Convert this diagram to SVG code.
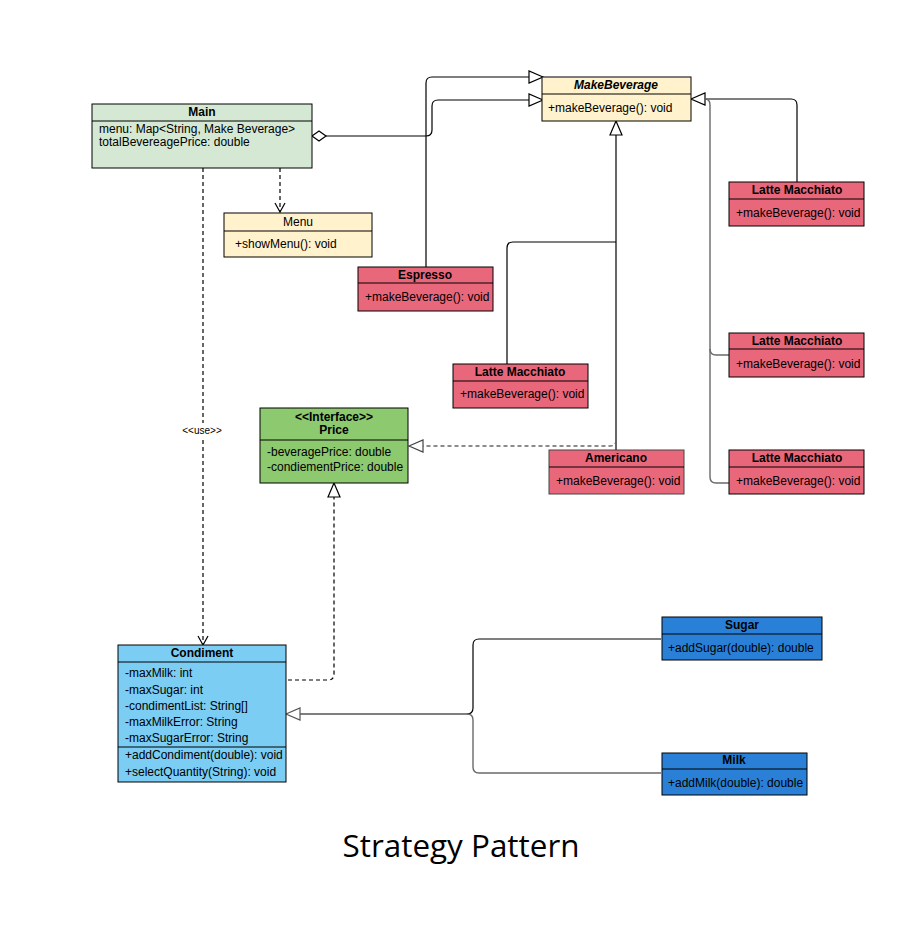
<svg xmlns="http://www.w3.org/2000/svg" width="922" height="938" viewBox="0 0 922 938">
<style>
text{font-family:"Liberation Sans",Arial,sans-serif;font-size:12px;fill:#000}
.t{font-weight:bold;text-anchor:middle}
.box{stroke:#000;stroke-width:1}
.ln{stroke:#000;stroke-width:1}
.c{fill:none;stroke:#000;stroke-width:1.2}
.g{fill:none;stroke:#6a6a6a;stroke-width:1.4}
.d{fill:none;stroke:#000;stroke-width:1.2;stroke-dasharray:4 3}
.dg{fill:none;stroke:#666;stroke-width:1.4;stroke-dasharray:4 3}
.tri{fill:#fff;stroke:#000;stroke-width:1.2}
.red{fill:#e9677b}
.yel{fill:#fff2cc}
</style>
<rect width="922" height="938" fill="#fff"/>
<g id="connectors">
  <!-- Main to MakeBeverage (aggregation) -->
  <path class="c" d="M326,136 H426 Q432,136 432,130 V106 Q432,100 438,100 H529"/>
  <polygon class="tri" points="312,136 319,131 326,136 319,141"/>
  <polygon class="tri" points="543,100 529,94 529,106"/>
  <!-- Espresso -->
  <path class="c" d="M426,267 V83 Q426,77 432,77 H529"/>
  <polygon class="tri" points="543,77 529,71 529,83"/>
  <!-- Latte middle & Americano -->
  <path class="c" d="M507,364 V248 Q507,242 513,242 H616"/>
  <path class="c" d="M616,450 V135"/>
  <polygon class="tri" points="616,121 610,135 622,135"/>
  <!-- Right Lattes -->
  <path class="c" d="M797,182 V105 Q797,99 791,99 H705"/>
  <polygon class="tri" points="691,99 705,93 705,105"/>
  <path class="g" d="M705,99 Q710,99 710,105 V477 Q710,483 716,483 H729"/>
  <path class="g" d="M710,349 Q710,355 716,355 H729"/>
  <!-- Americano realization to Price -->
  <path class="dg" d="M616,440 Q616,446 610,446 H423"/>
  <polygon class="tri" points="409,446 423,440 423,452" style="stroke:#444"/>
  <!-- Main to Menu -->
  <path class="d" d="M280,168 V212"/>
  <path class="c" d="M275,203 L280,212 L285,203"/>
  <!-- Main to Condiment (use) -->
  <path class="d" d="M203,168 V423"/>
  <path class="d" d="M203,440 V644"/>
  <path class="c" d="M198,636 L203,645 L208,636"/>
  <text x="202" y="434" style="font-size:10px;text-anchor:middle">&lt;&lt;use&gt;&gt;</text>
  <!-- Condiment to Price -->
  <path class="d" d="M288,680 H328 Q334,680 334,674 V497"/>
  <polygon class="tri" points="334,483 328,497 340,497"/>
  <!-- Sugar / Milk to Condiment -->
  <path class="c" d="M661,639 H479 Q473,639 473,645 V708 Q473,714 467,714 H300"/>
  <path class="g" d="M661,773 H479 Q473,773 473,767 V720 Q473,714 467,714"/>
  <polygon class="tri" points="286,714 300,708 300,720" style="stroke:#555"/>
</g>
<g id="main">
  <rect class="box" x="92" y="104" width="220" height="64" fill="#d5e8d4"/>
  <line class="ln" x1="92" y1="121" x2="312" y2="121"/>
  <text class="t" x="202" y="116">Main</text>
  <text x="99" y="133">menu: Map&lt;String, Make Beverage&gt;</text>
  <text x="99" y="146">totalBevereagePrice: double</text>
</g>
<g id="makebeverage">
  <rect class="box yel" x="542" y="77" width="149" height="44"/>
  <line class="ln" x1="542" y1="94" x2="691" y2="94"/>
  <text class="t" x="616" y="89" font-style="italic">MakeBeverage</text>
  <text x="548" y="112">+makeBeverage(): void</text>
</g>
<g id="menu">
  <rect class="box yel" x="224" y="213" width="148" height="44"/>
  <line class="ln" x1="224" y1="231" x2="372" y2="231"/>
  <text x="298" y="226" text-anchor="middle">Menu</text>
  <text x="235" y="248">+showMenu(): void</text>
</g>
<g id="espresso">
  <rect class="box red" x="358" y="267" width="135" height="44"/>
  <line class="ln" x1="358" y1="283" x2="493" y2="283"/>
  <text class="t" x="425" y="279">Espresso</text>
  <text x="365" y="301">+makeBeverage(): void</text>
</g>
<g id="latte-mid">
  <rect class="box red" x="453" y="364" width="135" height="44"/>
  <line class="ln" x1="453" y1="381" x2="588" y2="381"/>
  <text class="t" x="520" y="376">Latte Macchiato</text>
  <text x="460" y="398">+makeBeverage(): void</text>
</g>
<g id="latte1">
  <rect class="box red" x="729" y="182" width="135" height="44"/>
  <line class="ln" x1="729" y1="199" x2="864" y2="199"/>
  <text class="t" x="797" y="194">Latte Macchiato</text>
  <text x="736" y="217">+makeBeverage(): void</text>
</g>
<g id="latte2">
  <rect class="box red" x="729" y="333" width="135" height="44"/>
  <line class="ln" x1="729" y1="349" x2="864" y2="349"/>
  <text class="t" x="797" y="345">Latte Macchiato</text>
  <text x="736" y="368">+makeBeverage(): void</text>
</g>
<g id="latte3">
  <rect class="box red" x="729" y="450" width="135" height="44"/>
  <line class="ln" x1="729" y1="467" x2="864" y2="467"/>
  <text class="t" x="797" y="462">Latte Macchiato</text>
  <text x="736" y="485">+makeBeverage(): void</text>
</g>
<g id="americano">
  <rect class="box red" x="549" y="450" width="135" height="44" style="stroke:#444"/>
  <line class="ln" x1="549" y1="467" x2="684" y2="467"/>
  <text class="t" x="616" y="462">Americano</text>
  <text x="556" y="485">+makeBeverage(): void</text>
</g>
<g id="price">
  <rect class="box" x="260" y="408" width="148" height="75" fill="#8dc96f"/>
  <line class="ln" x1="260" y1="440" x2="408" y2="440"/>
  <text class="t" x="334" y="421">&lt;&lt;Interface&gt;&gt;</text>
  <text class="t" x="334" y="434">Price</text>
  <text x="267" y="456">-beveragePrice: double</text>
  <text x="267" y="471">-condiementPrice: double</text>
</g>
<g id="condiment">
  <rect class="box" x="118" y="645" width="168" height="137" fill="#7bcdf4"/>
  <line class="ln" x1="118" y1="662" x2="286" y2="662"/>
  <line class="ln" x1="118" y1="747" x2="286" y2="747"/>
  <text class="t" x="202" y="657">Condiment</text>
  <text x="125" y="677">-maxMilk: int</text>
  <text x="125" y="694">-maxSugar: int</text>
  <text x="125" y="710">-condimentList: String[]</text>
  <text x="125" y="726">-maxMilkError: String</text>
  <text x="125" y="742">-maxSugarError: String</text>
  <text x="125" y="759">+addCondiment(double): void</text>
  <text x="125" y="776">+selectQuantity(String): void</text>
</g>
<g id="sugar">
  <rect class="box" x="662" y="617" width="160" height="43" fill="#2a80d6"/>
  <line class="ln" x1="662" y1="634" x2="822" y2="634"/>
  <text class="t" x="742" y="629">Sugar</text>
  <text x="668" y="652">+addSugar(double): double</text>
</g>
<g id="milk">
  <rect class="box" x="662" y="753" width="145" height="42" fill="#2a80d6"/>
  <line class="ln" x1="662" y1="769" x2="807" y2="769"/>
  <text class="t" x="734" y="764">Milk</text>
  <text x="668" y="787">+addMilk(double): double</text>
</g>
<text x="461" y="857" text-anchor="middle" style="font-family:'Open Sans','Noto Sans',sans-serif;font-size:31px" textLength="237" lengthAdjust="spacingAndGlyphs">Strategy Pattern</text>
</svg>
